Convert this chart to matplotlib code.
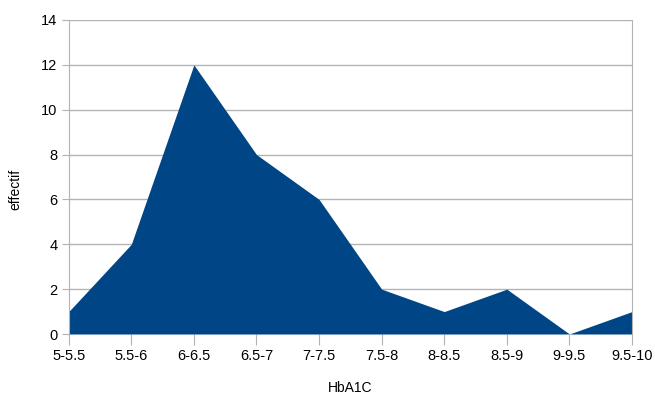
import matplotlib
matplotlib.use("Agg")
import matplotlib.pyplot as plt

categories = ["5-5.5", "5.5-6", "6-6.5", "6.5-7", "7-7.5", "7.5-8",
              "8-8.5", "8.5-9", "9-9.5", "9.5-10"]
counts = [1, 4, 12, 8, 6, 2, 1, 2, 0, 1]
y_ticks = [0, 2, 4, 6, 8, 10, 12, 14]

plt.rcParams["font.family"] = ["Liberation Sans Narrow", "Liberation Sans", "DejaVu Sans"]

fig = plt.figure(figsize=(6.55, 4.03), dpi=100)
ax = fig.add_axes([0.1049, 0.1712, 0.8600, 0.7792])

x = list(range(len(categories)))
ax.fill_between(x, counts, 0, color="#004586", linewidth=0, zorder=2)

ax.set_xlim(0, len(categories) - 1)
ax.set_ylim(0, 14)
ax.set_yticks(y_ticks)
ax.set_xticks(x, categories)
ax.grid(axis="y", color="#b3b3b3", linewidth=1, zorder=1)

for side in ("top", "bottom"):
    ax.spines[side].set_visible(False)
ax.spines["right"].set_color("#b3b3b3")
ax.spines["left"].set_color("#b3b3b3")
ax.tick_params(axis="x", length=8, color="#b3b3b3", labelsize=10.5, pad=3)
ax.tick_params(axis="y", length=5, color="#b3b3b3", labelsize=10.5, pad=3)

ax.set_xlabel("HbA1C", fontsize=10)
ax.set_ylabel("effectif", fontsize=10)
ax.xaxis.set_label_coords(0.5, -0.15)
ax.yaxis.set_label_coords(-0.082, 0.46)

fig.savefig("out.png", dpi=100)
